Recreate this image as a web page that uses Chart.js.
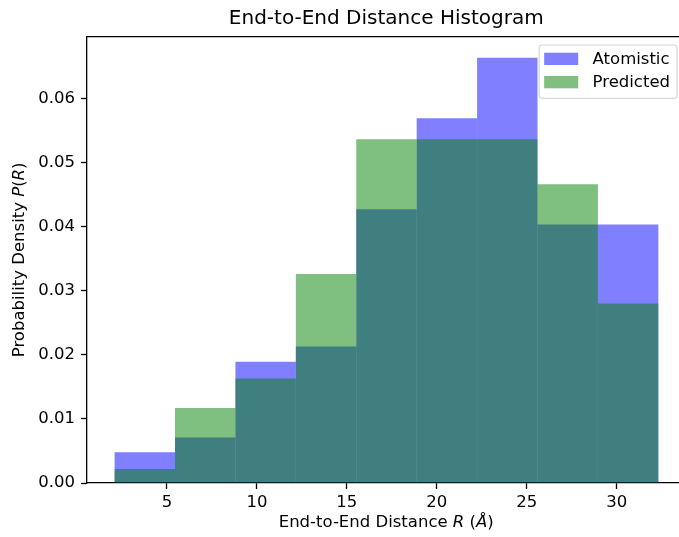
<!DOCTYPE html>
<html>
<head>
<meta charset="utf-8">
<script src="https://cdn.jsdelivr.net/npm/chart.js@4.4.1/dist/chart.umd.min.js"></script>
<style>
body { margin: 0; background: #fff; overflow: hidden; }
#wrap { width: 679px; height: 537px; }
</style>
</head>
<body>
<div id="wrap"><canvas id="hist" width="679" height="537"></canvas></div>
<script>
// histogram data
const binEdges = [2.09, 5.448, 8.806, 12.164, 15.522, 18.88, 22.238, 25.596, 28.954, 32.312];
const atomistic = [0.0048, 0.0071, 0.0189, 0.0213, 0.0427, 0.0569, 0.0663, 0.0403, 0.0403];
const predicted = [0.0022, 0.0117, 0.0163, 0.0326, 0.0536, 0.0536, 0.0536, 0.0466, 0.0280];
const seriesLabels = ['Atomistic', 'Predicted'];
const xTicks = [5, 10, 15, 20, 25, 30];
const yTicks = [0, 0.01, 0.02, 0.03, 0.04, 0.05, 0.06];

// axis limits (the right end of the axes is cut off in the picture)
const xMin = 0.556, xMax = 33.46, xAxisEnd = 33.82;
const yMax = 0.0696;

const titleText = 'End-to-End Distance Histogram';
const xLabelParts = [['End-to-End Distance ', false], ['R', true], [' (', false], ['Å', true], [')', false]];
const yLabelParts = [['Probability Density ', false], ['P', true], ['(', false], ['R', true], [')', false]];

const FONT = '"DejaVu Sans", sans-serif';
const blue = 'rgba(0, 0, 255, 0.5)';
const green = 'rgba(0, 128, 0, 0.5)';

const centers = binEdges.slice(0, -1).map((e, i) => (e + binEdges[i + 1]) / 2);
const toPoints = (vals) => vals.map((v, i) => ({ x: centers[i], y: v }));

function drawRich(ctx, parts, cx, cy, size) {
    let total = 0;
    const widths = parts.map(([t, it]) => {
        ctx.font = `${it ? 'italic ' : ''}${size}px ${FONT}`;
        const w = ctx.measureText(t).width;
        total += w;
        return w;
    });
    let x = cx - total / 2;
    ctx.textAlign = 'left';
    ctx.textBaseline = 'middle';
    parts.forEach(([t, it], i) => {
        ctx.font = `${it ? 'italic ' : ''}${size}px ${FONT}`;
        ctx.fillText(t, x, cy);
        x += widths[i];
    });
}

function roundRect(ctx, x, y, w, h, r) {
    ctx.beginPath();
    ctx.moveTo(x + r, y);
    ctx.lineTo(x + w - r, y);
    ctx.arcTo(x + w, y, x + w, y + r, r);
    ctx.lineTo(x + w, y + h - r);
    ctx.arcTo(x + w, y + h, x + w - r, y + h, r);
    ctx.lineTo(x + r, y + h);
    ctx.arcTo(x, y + h, x, y + h - r, r);
    ctx.lineTo(x, y + r);
    ctx.arcTo(x, y, x + r, y, r);
    ctx.closePath();
}

// title, axis labels, top spine and legend in matplotlib style
const mplDecor = {
    id: 'mplDecor',
    afterDraw(chart) {
        const { ctx, chartArea, scales } = chart;
        const axRight = scales.x.getPixelForValue(xAxisEnd);
        const axCenter = (chartArea.left + axRight) / 2;
        ctx.save();

        ctx.strokeStyle = '#000';
        ctx.lineWidth = 1.3;
        ctx.beginPath();
        ctx.moveTo(chartArea.left, chartArea.top);
        ctx.lineTo(chart.width, chartArea.top);
        ctx.stroke();

        ctx.fillStyle = '#000';
        ctx.font = `20px ${FONT}`;
        ctx.textAlign = 'center';
        ctx.textBaseline = 'middle';
        ctx.fillText(titleText, axCenter, 19);

        drawRich(ctx, xLabelParts, axCenter, 523, 16.5);

        ctx.save();
        ctx.translate(20, (chartArea.top + chartArea.bottom) / 2);
        ctx.rotate(-Math.PI / 2);
        drawRich(ctx, yLabelParts, 0, 0, 16.5);
        ctx.restore();

        // legend box
        const bw = 138, bh = 53.3;
        const bx = axRight - 8.3 - bw, by = chartArea.top + 8.3;
        roundRect(ctx, bx, by, bw, bh, 3.5);
        ctx.fillStyle = 'rgba(255, 255, 255, 0.8)';
        ctx.fill();
        ctx.strokeStyle = '#d6d6d6';
        ctx.lineWidth = 1.2;
        ctx.stroke();

        const colors = [blue, green];
        const rows = [7.7, 31];
        seriesLabels.forEach((lab, i) => {
            ctx.fillStyle = colors[i];
            ctx.fillRect(bx + 5, by + rows[i], 34, 12.3);
            ctx.fillStyle = '#000';
            ctx.font = `16.5px ${FONT}`;
            ctx.textAlign = 'left';
            ctx.textBaseline = 'middle';
            ctx.fillText(lab, bx + 53.4, by + rows[i] + 6.6);
        });
        ctx.restore();
    }
};

Chart.defaults.font.family = FONT;
Chart.defaults.color = '#000';

new Chart(document.getElementById('hist'), {
    type: 'bar',
    data: {
        datasets: [
            { label: seriesLabels[0], data: toPoints(atomistic), backgroundColor: blue, order: 1 },
            { label: seriesLabels[1], data: toPoints(predicted), backgroundColor: green, order: 0 }
        ]
    },
    options: {
        responsive: false,
        animation: false,
        grouped: false,
        barPercentage: 1.0,
        categoryPercentage: 1.0,
        borderWidth: 0,
        inflateAmount: 0,
        layout: { padding: { top: 36.7, left: 0, right: 0, bottom: 0 } },
        scales: {
            x: {
                type: 'linear',
                offset: false,
                min: xMin, max: xMax,
                afterBuildTicks: (axis) => { axis.ticks = xTicks.map(v => ({ value: v })); },
                afterFit: (axis) => { axis.height = 54; },
                grid: { offset: false, drawOnChartArea: false, tickLength: 6, tickColor: '#000', tickWidth: 1.3 },
                border: { display: true, color: '#000', width: 1.3 },
                ticks: { font: { size: 16.5 }, padding: 4, maxRotation: 0, callback: (v) => String(v) }
            },
            y: {
                min: 0, max: yMax,
                afterBuildTicks: (axis) => { axis.ticks = yTicks.map(v => ({ value: v })); },
                afterFit: (axis) => { axis.width = 87; },
                grid: { drawOnChartArea: false, tickLength: 6, tickColor: '#000', tickWidth: 1.3 },
                border: { display: true, color: '#000', width: 1.3 },
                ticks: { font: { size: 16.5 }, padding: 6, callback: (v) => v.toFixed(2) }
            }
        },
        plugins: {
            legend: { display: false },
            tooltip: { enabled: false },
            title: { display: false }
        }
    },
    plugins: [mplDecor]
});
</script>
</body>
</html>
